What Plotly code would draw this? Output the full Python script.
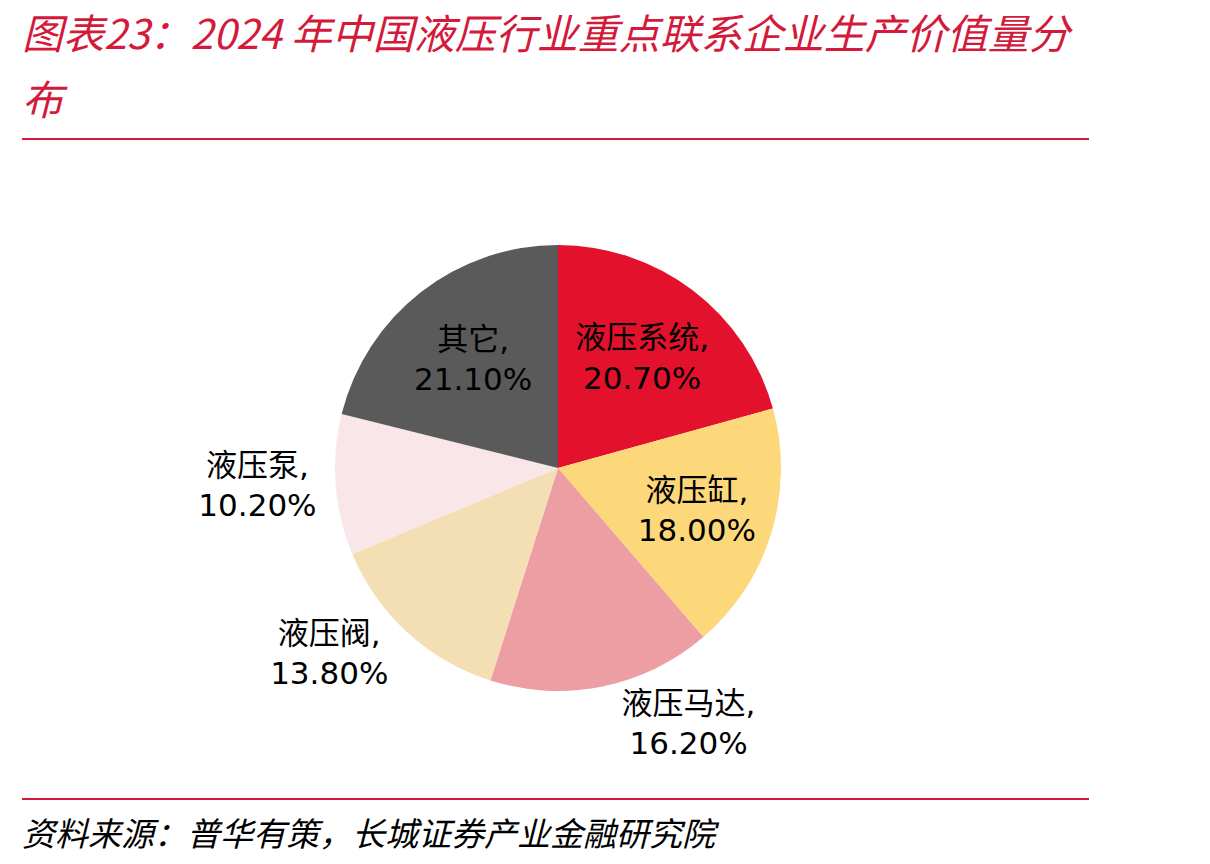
import plotly.graph_objects as go

categories = ["液压系统", "液压缸", "液压马达", "液压阀", "液压泵", "其它"]
values = [20.7, 18.0, 16.2, 13.8, 10.2, 21.1]
colors = ["#E4112D", "#FDD87B", "#EC9EA3", "#F4DFB5", "#F8E6E9", "#5A5A5A"]
positions = ["inside", "inside", "outside", "outside", "outside", "inside"]

W, H = 1210, 864
cx, cy, r = 558, 468, 223

texts = [f"{c},<br>{v:.2f}%" for c, v in zip(categories, values)]

fig = go.Figure(go.Pie(
    labels=categories,
    values=values,
    text=texts,
    textinfo="text",
    textposition=positions,
    insidetextorientation="horizontal",
    sort=False,
    direction="clockwise",
    rotation=0,
    marker=dict(colors=colors, line=dict(width=0)),
    textfont=dict(family="DejaVu Sans, Noto Sans CJK SC", size=31, color="#000000"),
    showlegend=False,
    hoverinfo="skip",
    domain=dict(x=[(cx - r) / W, (cx + r) / W], y=[(H - cy - r) / H, (H - cy + r) / H]),
))

red = "#D31A3B"
fig.update_layout(
    width=W, height=H,
    margin=dict(l=0, r=0, t=0, b=0),
    paper_bgcolor="white",
    plot_bgcolor="white",
    font=dict(family="Noto Sans CJK SC"),
    shapes=[
        dict(type="line", xref="paper", yref="paper", x0=22 / W, x1=1089 / W,
             y0=1 - 139 / H, y1=1 - 139 / H, line=dict(color=red, width=2)),
        dict(type="line", xref="paper", yref="paper", x0=22 / W, x1=1089 / W,
             y0=1 - 799 / H, y1=1 - 799 / H, line=dict(color=red, width=2)),
    ],
    annotations=[
        dict(text="图表23：2024 年中国液压行业重点联系企业生产价值量分", xref="paper", yref="paper",
             x=20 / W, y=1 - 31 / H, xanchor="left", yanchor="middle", showarrow=False,
             font=dict(family="Noto Sans CJK SC", size=41, color=red, style="italic")),
        dict(text="布", xref="paper", yref="paper",
             x=20 / W, y=1 - 97 / H, xanchor="left", yanchor="middle", showarrow=False,
             font=dict(family="Noto Sans CJK SC", size=41, color=red, style="italic")),
        dict(text="资料来源：普华有策，长城证券产业金融研究院", xref="paper", yref="paper",
             x=20 / W, y=1 - 832 / H, xanchor="left", yanchor="middle", showarrow=False,
             font=dict(family="Noto Sans CJK SC", size=33, color="#000000", style="italic")),
    ],
)

fig.write_html("out.html")
